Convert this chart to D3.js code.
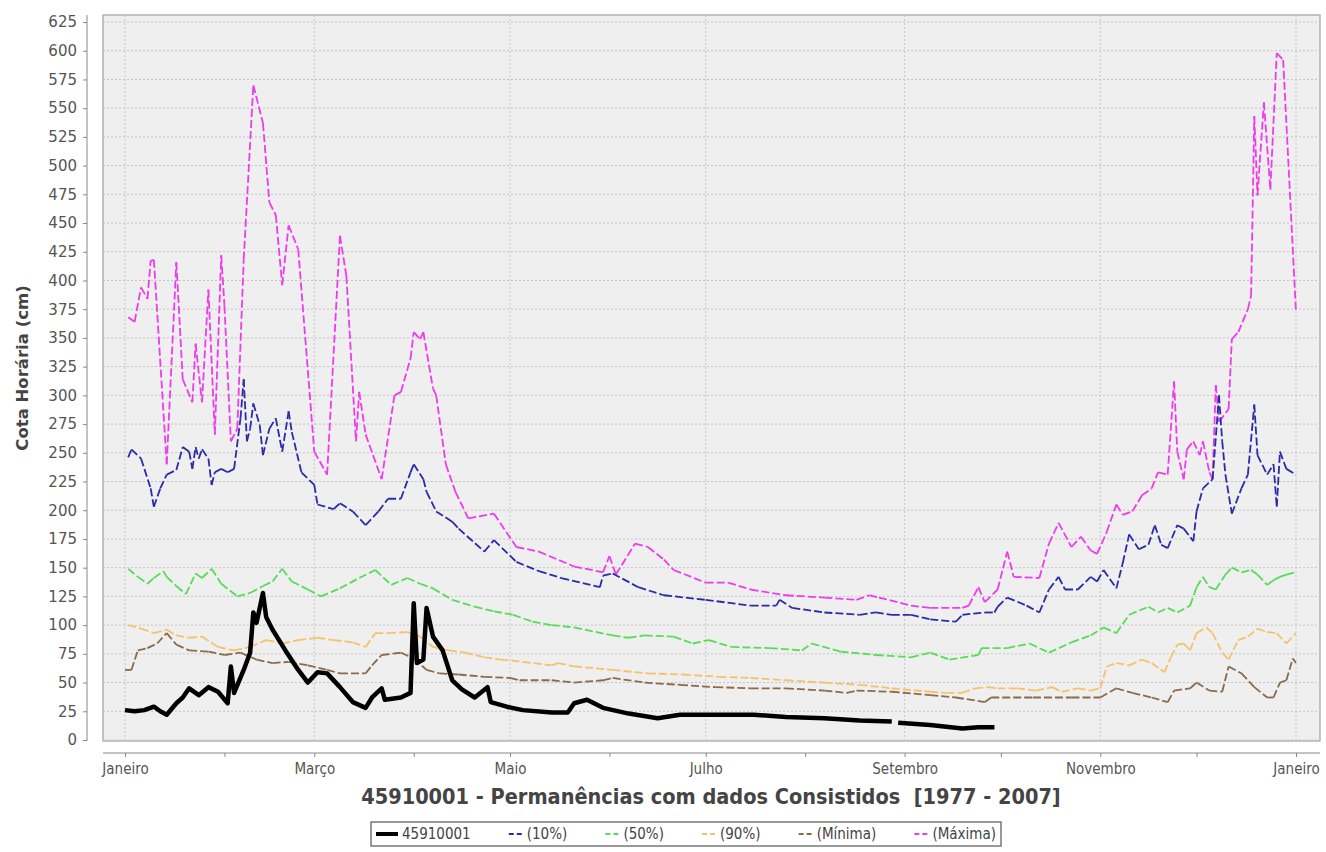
<!DOCTYPE html>
<html><head><meta charset="utf-8">
<script src="https://cdn.jsdelivr.net/npm/d3@7/dist/d3.min.js"></script>
<style>body{margin:0;background:#fff;} svg{display:block;}</style>
</head><body><svg id="c" width="1326" height="852"></svg>
<script>
// ---------- data (day of year, value in cm) ----------
const xTickMonths = [0, 2, 4, 6, 8, 10, 12];
const xTickLabels = ["Janeiro", "Março", "Maio", "Julho", "Setembro", "Novembro", "Janeiro"];
const yTickValues = [0,25,50,75,100,125,150,175,200,225,250,275,300,325,350,375,400,425,450,475,500,525,550,575,600,625];

const seriesNames = ["45910001", "(10%)", "(50%)", "(90%)", "(Mínima)", "(Máxima)"];
const seriesColors = ["#000000", "#2b2ba8", "#55dd55", "#f5c26b", "#8a6a4a", "#ee3bee"];

const obs = [[0,26],[3,25],[6,26],[9,29],[11,25],[13,22],[16,32],[18,37],[20,45],[23,39],[26,46],[29,42],[32,32],[33,64],[34,41],[37,61],[39,76],[40,111],[41,102],[43,128],[44,107],[46,96],[50,78],[54,61],[57,50],[60,59],[63,58],[67,46],[71,33],[75,28],[77,37],[80,45],[81,35],[86,37],[89,41],[90,119],[91,67],[93,70],[94,115],[96,90],[99,78],[102,52],[105,44],[109,37],[113,46],[114,33],[119,29],[124,26],[133,24],[138,24],[140,32],[144,35],[149,28],[157,23],[166,19],[173,22],[185,22],[196,22],[206,20],[218,19],[229,17],[239,16],[240,null],[241,15],[251,13],[261,10],[266,11],[271,11]];

const p10 = [[1,246],[2,253],[5,245],[8,219],[9,203],[11,219],[13,231],[16,235],[18,255],[20,251],[21,236],[22,255],[23,245],[24,253],[26,245],[27,222],[28,233],[30,236],[32,233],[34,236],[36,280],[37,314],[38,260],[39,271],[40,293],[42,274],[43,248],[45,271],[47,280],[49,251],[51,286],[52,268],[55,233],[59,222],[60,205],[65,201],[67,206],[71,199],[75,187],[79,199],[82,210],[86,210],[89,233],[90,240],[93,227],[94,216],[97,199],[102,190],[104,184],[112,164],[115,174],[122,155],[129,147],[136,141],[148,133],[149,143],[152,145],[160,133],[168,126],[181,122],[195,117],[203,117],[204,122],[208,115],[218,111],[229,109],[234,111],[239,109],[245,109],[251,105],[259,103],[261,109],[268,111],[271,111],[272,116],[275,124],[281,117],[285,111],[288,131],[291,142],[293,131],[297,131],[301,142],[303,138],[305,148],[309,132],[311,154],[313,179],[316,166],[319,170],[321,187],[323,170],[325,167],[328,187],[330,184],[333,173],[334,199],[336,219],[339,227],[341,300],[342,260],[343,231],[345,197],[348,219],[350,231],[352,292],[353,248],[356,231],[358,240],[359,203],[360,251],[362,236],[365,231]];

const p50 = [[1,149],[4,142],[7,136],[9,141],[12,147],[13,142],[16,134],[19,127],[22,145],[24,141],[27,149],[30,136],[35,125],[39,128],[43,134],[46,138],[49,149],[52,138],[57,131],[61,125],[67,132],[73,141],[78,148],[83,135],[88,141],[92,136],[96,132],[102,122],[109,116],[115,112],[121,109],[127,103],[133,100],[140,98],[152,91],[157,89],[162,91],[171,90],[177,84],[182,87],[189,81],[201,80],[211,78],[214,84],[223,77],[234,74],[245,72],[251,76],[257,70],[266,74],[267,80],[275,80],[282,84],[288,76],[295,85],[301,91],[305,98],[309,93],[313,109],[319,116],[322,111],[325,115],[328,111],[332,117],[334,133],[336,142],[338,133],[340,131],[343,144],[345,150],[348,146],[351,148],[353,144],[356,135],[358,139],[360,142],[362,144],[365,146]];

const p90 = [[1,100],[5,97],[9,93],[13,96],[16,91],[20,89],[24,90],[29,81],[34,78],[39,81],[44,87],[49,84],[54,87],[60,89],[65,87],[71,85],[75,81],[78,93],[82,93],[88,94],[92,90],[96,81],[101,78],[106,76],[112,72],[117,70],[124,68],[133,65],[135,67],[140,64],[152,61],[163,58],[174,57],[185,55],[195,54],[206,52],[218,50],[229,48],[239,45],[251,42],[256,41],[261,41],[265,45],[269,46],[272,45],[278,45],[284,43],[289,46],[292,42],[297,45],[301,43],[304,45],[306,64],[309,67],[313,65],[317,70],[320,67],[324,59],[326,72],[328,83],[330,84],[332,78],[334,93],[337,98],[339,93],[342,76],[344,70],[347,87],[350,90],[353,97],[356,94],[359,93],[362,84],[365,93]];

const pMin = [[0,61],[2,61],[4,78],[7,80],[10,84],[13,93],[16,83],[20,78],[26,77],[31,74],[36,76],[41,70],[46,67],[51,68],[57,65],[63,61],[67,58],[75,58],[77,65],[80,74],[86,76],[90,71],[94,61],[98,58],[104,57],[112,55],[120,54],[123,52],[133,52],[140,50],[149,52],[152,54],[162,50],[173,48],[184,46],[195,45],[206,45],[218,43],[225,41],[228,43],[239,42],[251,39],[259,37],[268,33],[270,37],[283,37],[295,37],[304,37],[309,45],[314,41],[320,37],[325,33],[327,43],[332,45],[334,50],[338,43],[342,42],[344,64],[348,58],[352,46],[356,37],[358,37],[360,50],[362,52],[364,71],[365,67]];

const pMax = [[1,368],[3,364],[5,394],[7,384],[8,417],[9,418],[13,240],[16,416],[18,314],[21,294],[22,345],[24,294],[26,392],[28,266],[30,422],[31,378],[33,260],[35,271],[37,418],[40,570],[43,537],[45,468],[47,457],[49,396],[51,448],[54,427],[59,251],[63,231],[67,439],[69,404],[72,260],[73,303],[75,266],[80,227],[84,300],[86,303],[89,332],[90,355],[92,349],[93,355],[96,306],[97,300],[100,240],[103,216],[107,193],[115,197],[122,168],[129,164],[140,151],[149,146],[151,160],[153,144],[159,171],[163,168],[168,157],[171,148],[181,137],[188,137],[195,131],[206,126],[218,124],[228,122],[232,126],[235,124],[245,117],[251,115],[261,115],[263,117],[266,133],[268,120],[272,131],[275,164],[277,142],[285,141],[288,171],[291,189],[295,168],[298,177],[301,165],[303,162],[306,181],[309,205],[311,196],[314,199],[317,213],[320,219],[322,233],[325,231],[327,312],[328,251],[330,227],[331,253],[333,260],[335,248],[336,260],[338,233],[339,227],[340,309],[341,277],[344,288],[345,349],[347,355],[350,375],[351,387],[352,543],[353,474],[355,555],[357,479],[359,598],[361,592],[365,372]];

const seriesData = [obs, p10, p50, p90, pMin, pMax];

// ---------- layout ----------
const svg = d3.select("#c");
const plotL = 103, plotR = 1320, plotT = 15, plotB = 741;
const x = d3.scaleTime().domain([new Date(2001,0,1), new Date(2002,0,1)]).range([125, 1296]);
const y = d3.scaleLinear().domain([0, 625]).range([740, 22]);
const dayDate = d => new Date(2001, 0, 1 + d);
const condensed = "DejaVu Sans Condensed, DejaVu Sans, sans-serif";

svg.append("rect").attr("width",1326).attr("height",852).attr("fill","#fff");
svg.append("rect").attr("x",plotL).attr("y",plotT).attr("width",plotR-plotL).attr("height",plotB-plotT)
  .attr("fill","#efefef").attr("stroke","#a0a0a0").attr("stroke-width",1.2);

svg.append("clipPath").attr("id","clip").append("rect")
  .attr("x",plotL).attr("y",plotT).attr("width",plotR-plotL).attr("height",plotB-plotT);

// grid
const grid = svg.append("g");
grid.selectAll(".hg").data(yTickValues).join("line")
  .attr("x1",plotL).attr("x2",plotR).attr("y1",d=>y(d)).attr("y2",d=>y(d))
  .attr("stroke","#c4c4c4").attr("stroke-width",1).attr("stroke-dasharray","2,2");
grid.selectAll(".vg").data(xTickMonths).join("line")
  .attr("x1",d=>x(new Date(2001,d,1))).attr("x2",d=>x(new Date(2001,d,1)))
  .attr("y1",plotT).attr("y2",plotB)
  .attr("stroke","#c8c8c8").attr("stroke-width",1).attr("stroke-dasharray","2,2");

// y axis
const yAxis = d3.axisLeft(y).tickValues(yTickValues).tickSize(4).tickPadding(6);
const ya = svg.append("g").attr("transform","translate(87,0)").call(yAxis);
ya.select(".domain").attr("d",`M0,${plotT}V${plotB}`).attr("stroke","#888");
ya.selectAll(".tick line").attr("stroke","#888");
ya.selectAll("text").attr("font-family","DejaVu Sans, sans-serif").attr("font-size",15).attr("fill","#555");

// x axis
const monthTicks = d3.range(0,13).map(m => new Date(2001,m,1));
const xAxis = d3.axisBottom(x).tickValues(monthTicks).tickSize(4)
  .tickFormat((d,i)=> (i%2===0) ? xTickLabels[i/2] : "");
const xa = svg.append("g").attr("transform","translate(0,753)").call(xAxis);
xa.select(".domain").attr("d",`M${plotL},0H${plotR}`).attr("stroke","#888");
xa.selectAll(".tick line").attr("stroke","#888");
xa.selectAll("text").attr("font-family",condensed)
  .attr("font-stretch","condensed").attr("font-size",15).attr("fill","#555").attr("dy","0.9em");

// axis titles
svg.append("text").attr("transform","translate(28,368) rotate(-90)").attr("text-anchor","middle")
  .attr("font-family","DejaVu Sans, sans-serif").attr("font-weight","bold").attr("font-size",16.5)
  .attr("fill","#444").text("Cota Horária (cm)");
const title = svg.append("text").attr("x",711).attr("y",804).attr("text-anchor","middle")
  .attr("font-family",condensed).attr("font-stretch","condensed")
  .attr("font-weight","bold").attr("font-size",18).attr("fill","#444")
  .style("white-space","pre")
  .text("45910001 - Permanências com dados Consistidos  [1977 - 2007]");
{ const w = title.node().getComputedTextLength(); title.attr("font-size", 18 * 700 / w); }

// series
const lineGen = d3.line().defined(d=>d[1]!==null).x(d=>x(dayDate(d[0]))).y(d=>y(d[1]));
const plotG = svg.append("g").attr("clip-path","url(#clip)");
for (let s = seriesData.length-1; s >= 0; s--) {
  const data = seriesData[s];
  if (s === 0) {
    plotG.append("path").attr("d", lineGen(data)).attr("fill","none")
      .attr("stroke",seriesColors[0]).attr("stroke-width",4.5).attr("stroke-linejoin","round");
  } else {
    const segs = d3.pairs(data);
    plotG.append("g").selectAll("path").data(segs).join("path")
      .attr("d", d => lineGen(d)).attr("fill","none")
      .attr("stroke",seriesColors[s]).attr("stroke-width",1.8).attr("stroke-dasharray","8,3");
  }
}

// legend
const legendG = svg.append("g");
const legRect = legendG.append("rect");
const lg = legendG.append("g");
const fsL = 15;
const symWs = seriesNames.map((n,i)=> i===0 ? 22 : 16);
// measure text widths
const widths = seriesNames.map(n => {
  const t = lg.append("text").attr("font-family",condensed).attr("font-stretch","condensed").attr("font-size",fsL).text(n);
  const w = t.node().getComputedTextLength(); t.remove(); return w;
});
const legW = 630, pad = 5, txtOff = 4;
const fixedW = d3.sum(widths) + d3.sum(symWs) + txtOff*seriesNames.length;
const gap = (legW - 2*pad - fixedW) / (seriesNames.length - 1);
let cx = 0;
seriesNames.forEach((n,i)=>{
  const g = lg.append("g").attr("transform",`translate(${cx},0)`);
  if (i===0) {
    g.append("line").attr("x1",0).attr("x2",symWs[i]).attr("y1",0).attr("y2",0).attr("stroke","#000").attr("stroke-width",4);
  } else {
    g.append("line").attr("x1",2).attr("x2",symWs[i]).attr("y1",0).attr("y2",0).attr("stroke",seriesColors[i])
      .attr("stroke-width",2).attr("stroke-dasharray","5,3");
  }
  g.append("text").attr("x", symWs[i] + txtOff).attr("y", fsL*0.36)
    .attr("font-family",condensed).attr("font-stretch","condensed")
    .attr("font-size",fsL).attr("fill","#444").text(n);
  cx += symWs[i] + txtOff + widths[i] + gap;
});
const legH = 24, legX = 686 - legW/2, legY = 822;
legRect.attr("x",legX).attr("y",legY).attr("width",legW).attr("height",legH)
  .attr("fill","#fff").attr("stroke","#555").attr("stroke-width",1.2);
lg.attr("transform",`translate(${legX+pad},${legY+legH/2})`);
</script>
</body></html>
